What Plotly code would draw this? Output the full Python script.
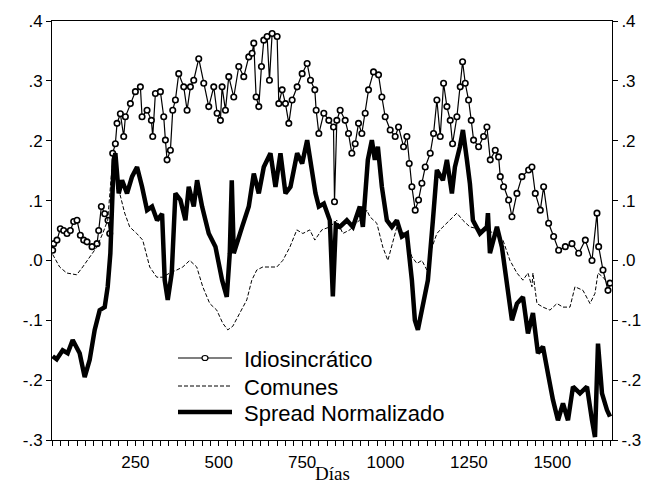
import plotly.graph_objects as go

# ---- data (days, values) ----
idio_days = [2, 5, 15, 25, 35, 45, 55, 65, 75, 85, 95, 105, 120, 135, 140, 148, 158, 168, 173, 182, 190, 195,
             205, 215, 220, 235, 250, 265, 270, 285, 298, 302, 310, 325, 335, 340, 345, 355, 362, 370, 380, 395,
             405, 415, 425, 440, 455, 470, 485, 495, 505, 510, 520, 530, 545, 560, 575, 590, 600, 605, 612, 620,
             628, 635, 645, 652, 660, 675, 680, 690, 700, 710, 720, 735, 750, 765, 775, 788, 792, 800, 815, 830,
             844, 847, 854, 864, 879, 889, 899, 909, 919, 929, 939, 949, 964, 979, 989, 999, 1014, 1029, 1039,
             1054, 1064, 1071, 1079, 1089, 1099, 1109, 1119, 1134, 1144, 1154, 1164, 1174, 1184, 1194, 1201,
             1214, 1224, 1231, 1239, 1249, 1257, 1264, 1279, 1294, 1304, 1314, 1329, 1339, 1344, 1354, 1369,
             1379, 1394, 1409, 1429, 1439, 1449, 1464, 1474, 1489, 1504, 1519, 1539, 1559, 1579, 1599, 1619,
             1634, 1639, 1652, 1667, 1673]
idio_vals = [0.017, 0.028, 0.034, 0.053, 0.05, 0.045, 0.05, 0.065, 0.067, 0.042, 0.034, 0.031, 0.023, 0.028,
             0.05, 0.09, 0.078, 0.067, 0.045, 0.179, 0.195, 0.229, 0.245, 0.207, 0.24, 0.262, 0.282, 0.29, 0.24,
             0.251, 0.234, 0.207, 0.279, 0.282, 0.24, 0.201, 0.168, 0.184, 0.251, 0.268, 0.312, 0.29, 0.251,
             0.29, 0.301, 0.337, 0.296, 0.257, 0.29, 0.246, 0.234, 0.29, 0.251, 0.307, 0.273, 0.324, 0.307,
             0.34, 0.346, 0.363, 0.273, 0.257, 0.324, 0.368, 0.374, 0.301, 0.379, 0.374, 0.262, 0.285, 0.262,
             0.229, 0.268, 0.29, 0.312, 0.329, 0.301, 0.285, 0.251, 0.212, 0.246, 0.234, 0.223, 0.098, 0.234,
             0.251, 0.234, 0.212, 0.179, 0.195, 0.229, 0.212, 0.246, 0.285, 0.315, 0.31, 0.273, 0.24, 0.218,
             0.207, 0.223, 0.19, 0.207, 0.162, 0.123, 0.084, 0.101, 0.129, 0.156, 0.179, 0.212, 0.268, 0.207,
             0.296, 0.257, 0.234, 0.195, 0.24, 0.29, 0.332, 0.296, 0.268, 0.234, 0.201, 0.19, 0.207, 0.223,
             0.168, 0.184, 0.173, 0.14, 0.123, 0.101, 0.073, 0.112, 0.14, 0.151, 0.156, 0.112, 0.084, 0.123,
             0.062, 0.04, 0.017, 0.023, 0.028, 0.012, 0.034, 0.0, 0.079, 0.023, -0.016, -0.05, -0.038]

comunes_days = [2, 23, 44, 74, 92, 113, 134, 152, 167, 179, 182, 194, 203, 218, 233, 254, 272, 293, 314, 332,
                353, 374, 392, 413, 434, 452, 473, 494, 512, 527, 542, 563, 584, 599, 614, 632, 653, 674, 692,
                713, 734, 752, 773, 788, 809, 833, 854, 872, 893, 914, 932, 944, 953, 974, 992, 1007, 1022, 1034,
                1049, 1064, 1079, 1094, 1109, 1124, 1133, 1154, 1172, 1193, 1214, 1232, 1253, 1292, 1334, 1352,
                1373, 1394, 1412, 1427, 1439, 1442, 1454, 1472, 1493, 1514, 1532, 1553, 1568, 1592, 1613, 1628,
                1637, 1652, 1667]
comunes_vals = [0.01, -0.011, -0.021, -0.024, -0.011, 0.006, 0.022, 0.045, 0.067, 0.15, 0.162, 0.14, 0.112,
                0.079, 0.056, 0.045, 0.034, -0.011, -0.028, -0.028, -0.021, -0.016, -0.011, 0.0, -0.011, -0.044,
                -0.072, -0.083, -0.105, -0.116, -0.11, -0.088, -0.066, -0.033, -0.016, -0.011, -0.011, -0.011,
                0.0, 0.022, 0.051, 0.045, 0.051, 0.034, 0.051, 0.056, 0.067, 0.045, 0.051, 0.062, 0.073, 0.084,
                0.073, 0.062, 0.022, 0.0, 0.034, 0.056, 0.051, 0.034, 0.006, -0.005, 0.0, -0.016, 0.012, 0.045,
                0.056, 0.067, 0.079, 0.067, 0.056, 0.051, 0.045, 0.034, 0.0, -0.021, -0.033, -0.021, -0.044,
                -0.021, -0.072, -0.078, -0.083, -0.072, -0.078, -0.078, -0.044, -0.05, -0.072, -0.055, -0.021,
                -0.028, -0.038]

spread_days = [2, 14, 32, 47, 62, 83, 98, 113, 128, 143, 158, 167, 175, 185, 190, 200, 210, 225, 240, 255,
               270, 285, 300, 315, 330, 338, 347, 359, 370, 385, 400, 410, 425, 435, 450, 470, 490, 510, 524,
               533, 539, 545, 570, 590, 605, 620, 635, 655, 670, 685, 700, 715, 735, 750, 765, 775, 790, 800,
               815, 833, 842, 851, 863, 884, 902, 923, 932, 947, 959, 968, 977, 989, 1004, 1019, 1034, 1049, 1064,
               1079, 1088, 1097, 1112, 1127, 1142, 1154, 1172, 1184, 1199, 1208, 1223, 1232, 1244, 1253, 1262,
               1283, 1304, 1307, 1313, 1334, 1349, 1364, 1379, 1394, 1412, 1427, 1442, 1457, 1472, 1487, 1502,
               1517, 1532, 1547, 1562, 1583, 1604, 1619, 1628, 1637, 1649, 1664, 1673]
spread_vals = [-0.16, -0.165, -0.15, -0.155, -0.133, -0.155, -0.195, -0.166, -0.116, -0.083, -0.078, -0.044,
               0.012, 0.168, 0.179, 0.112, 0.134, 0.112, 0.14, 0.156, 0.123, 0.084, 0.09, 0.067, 0.078, -0.033,
               -0.066, -0.021, 0.112, 0.101, 0.067, 0.123, 0.09, 0.134, 0.09, 0.045, 0.023, -0.033, -0.061,
               0.012, 0.134, 0.012, 0.056, 0.09, 0.145, 0.112, 0.156, 0.179, 0.123, 0.179, 0.112, 0.123, 0.179,
               0.162, 0.201, 0.162, 0.112, 0.09, 0.095, 0.067, -0.06, 0.06, 0.056, 0.067, 0.056, 0.09, 0.056,
               0.168, 0.201, 0.168, 0.19, 0.123, 0.067, 0.056, 0.067, 0.04, 0.045, -0.033, -0.1, -0.116, -0.078,
               -0.033, 0.067, 0.151, 0.134, 0.168, 0.112, 0.156, 0.19, 0.218, 0.168, 0.128, 0.067, 0.045, 0.056,
               0.079, 0.012, 0.056, 0.022, -0.033, -0.1, -0.072, -0.061, -0.122, -0.088, -0.155, -0.144, -0.189,
               -0.233, -0.267, -0.239, -0.267, -0.211, -0.222, -0.211, -0.267, -0.295, -0.139, -0.222, -0.25,
               -0.261]

series_names = ["Idiosincrático", "Comunes", "Spread Normalizado"]
y_ticks = [-0.3, -0.2, -0.1, 0.0, 0.1, 0.2, 0.3, 0.4]
y_labels = ["-.3", "-.2", "-.1", ".0", ".1", ".2", ".3", ".4"]
x_ticks = [250, 500, 750, 1000, 1250, 1500]
x_labels = ["250", "500", "750", "1000", "1250", "1500"]
x_title = "Días"

# styles
idio_line = dict(color="black", width=1.2)
comunes_line = dict(color="black", width=1, dash="4px,2px")
spread_line = dict(color="black", width=4.5)

fig = go.Figure()
fig.add_trace(go.Scatter(
    x=idio_days, y=idio_vals, name=series_names[0], mode="lines+markers", line=idio_line,
    marker=dict(symbol="circle", size=5.5, color="white", line=dict(color="black", width=1.6)),
))
fig.add_trace(go.Scatter(x=comunes_days, y=comunes_vals, name=series_names[1], mode="lines", line=comunes_line))
fig.add_trace(go.Scatter(x=spread_days, y=spread_vals, name=series_names[2], mode="lines", line=spread_line))
# invisible trace to carry the right-hand axis
fig.add_trace(go.Scatter(x=[spread_days[0]], y=[spread_vals[0]], yaxis="y2", mode="lines",
                         showlegend=False, hoverinfo="skip", line=dict(width=0)))

# ---- hand-placed legend (paper coordinates of the plot area) ----
W_PLOT, H_PLOT, L, B = 560, 419, 52, 440
def px(xp):
    return (xp - L) / W_PLOT
def py(yp):
    return (B - yp) / H_PLOT

rows_y = [358, 386, 412]
line_styles = [idio_line, comunes_line, spread_line]
shapes = []
annotations = []
for name, ly, st in zip(series_names, rows_y, line_styles):
    shapes.append(dict(type="line", xref="paper", yref="paper", x0=px(178), x1=px(232),
                       y0=py(ly), y1=py(ly), line=st))
    annotations.append(dict(text=name, xref="paper", yref="paper", x=px(242), y=py(ly + 1),
                            xanchor="left", yanchor="middle", showarrow=False,
                            font=dict(size=22, color="black")))
shapes.append(dict(type="circle", xref="paper", yref="paper", x0=px(202), x1=px(208),
                   y0=py(rows_y[0] + 2.5), y1=py(rows_y[0] - 2.5),
                   fillcolor="white", line=dict(color="black", width=1.2)))
annotations.append(dict(text=x_title, xref="paper", yref="paper", x=0.5, y=py(473), xanchor="center",
                        yanchor="middle", showarrow=False,
                        font=dict(family="Liberation Serif, Times New Roman, serif", size=19, color="black")))

font_family = "Liberation Sans, Arial, sans-serif"
fig.update_layout(
    width=655, height=486,
    margin=dict(l=52, r=43, t=21, b=46),
    paper_bgcolor="white", plot_bgcolor="white",
    font=dict(family=font_family, size=17, color="black"),
    showlegend=False,
    shapes=shapes, annotations=annotations,
    xaxis=dict(range=[0, 1679], tickvals=x_ticks, ticktext=x_labels, ticks="outside", ticklen=5,
               tickwidth=1, tickcolor="black", showline=True, linecolor="black", linewidth=1,
               mirror=True, showgrid=False, zeroline=False, tickfont=dict(size=17), automargin=False,
               ticklabelstandoff=2,
               minor=dict(dtick=25, tick0=0, ticks="outside", ticklen=5, tickcolor="black", showgrid=False)),
    yaxis=dict(range=[-0.3, 0.4], tickvals=y_ticks, ticktext=y_labels, ticks="outside", ticklen=5,
               tickcolor="black", showline=True, linecolor="black", linewidth=1, showgrid=False,
               zeroline=False, tickfont=dict(size=17), automargin=False),
    yaxis2=dict(range=[-0.3, 0.4], tickvals=y_ticks, ticktext=y_labels, ticks="outside", ticklen=5,
                tickcolor="black", showline=True, linecolor="black", linewidth=1, showgrid=False,
                zeroline=False, overlaying="y", side="right", tickfont=dict(size=17), automargin=False),
)

fig.write_html("out.html")
